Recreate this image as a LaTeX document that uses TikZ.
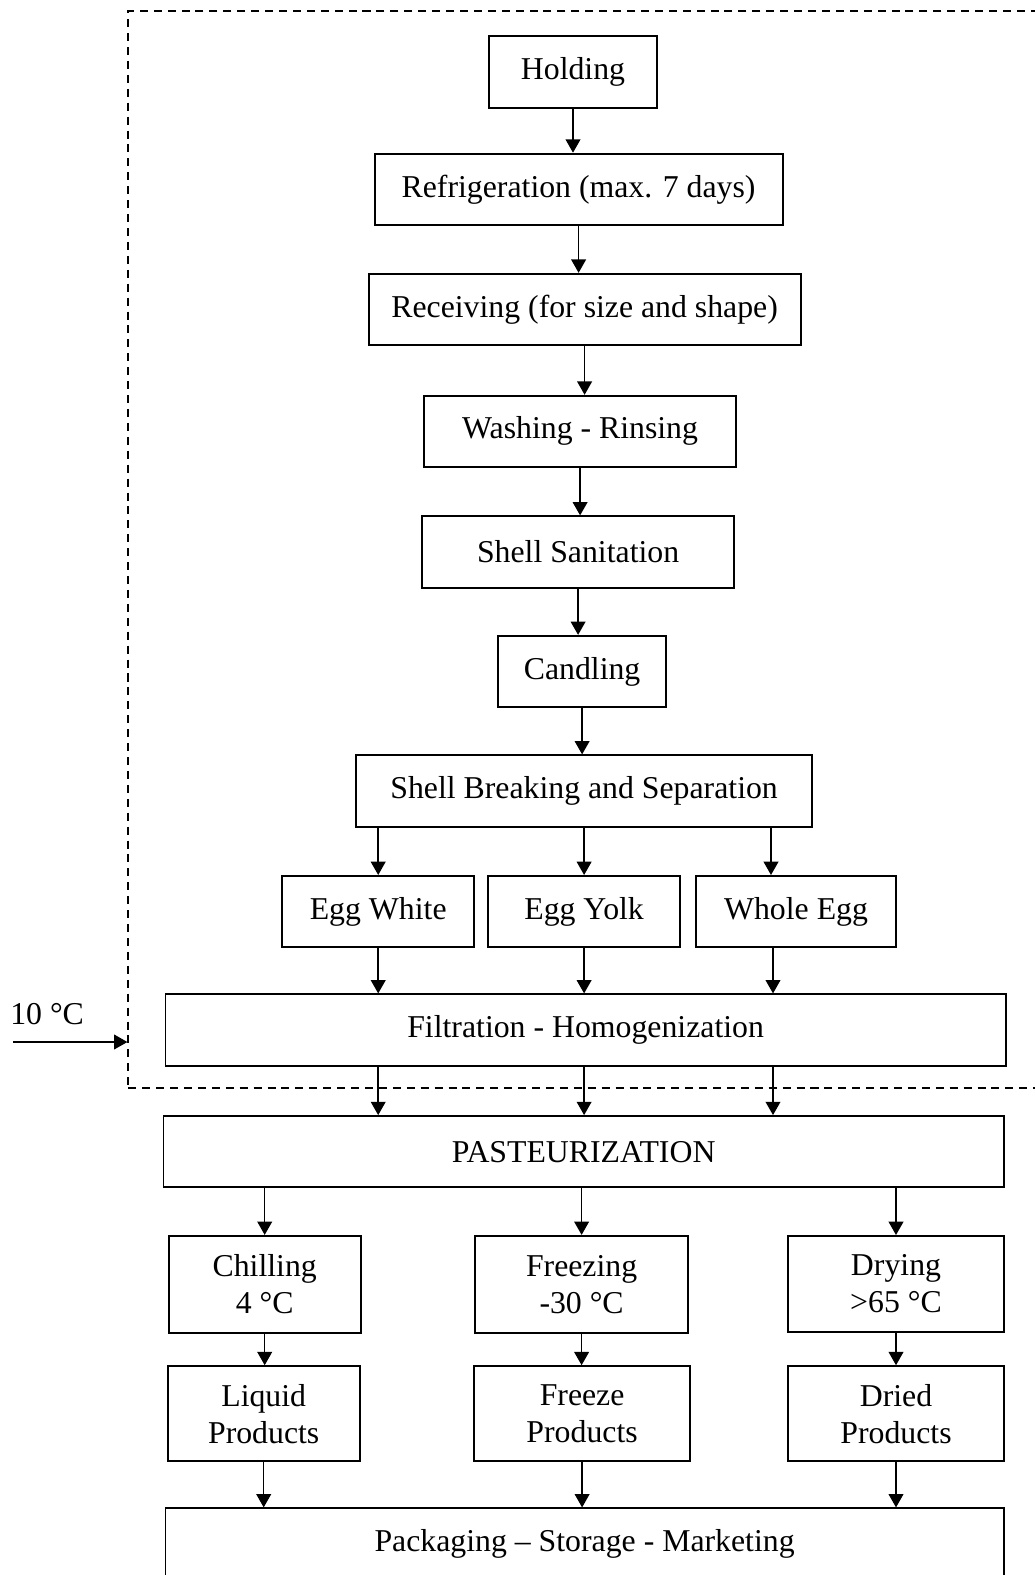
\documentclass[tikz,border=0pt]{standalone}
\usepackage{fontspec}
\setmainfont{Liberation Serif}
\usetikzlibrary{arrows.meta, positioning}

\begin{document}
\begin{tikzpicture}[x=0.025cm, y=-0.025cm, >={Triangle[length=9.5pt, width=10.5pt]},
  font=\fontsize{22.6pt}{26.4pt}\selectfont,
  box/.style={draw, line width=1.4pt, fill=white, align=center, inner sep=0pt, minimum height=1.78cm},
  tallbox/.style={box, minimum height=2.42cm},
  flow/.style={->, line width=1.1pt}]
\useasboundingbox (0,0) rectangle (1034,1575);
% refrigerated zone
\node[draw, dash pattern=on 5.7pt off 4.2pt, line width=1.3pt, minimum width=22.79cm, minimum height=26.93cm, inner sep=0pt] (zone) at (584.25,549.5) {};
\node[box, minimum width=4.2cm] (hold) at (573,72) {Holding};
\node[box, minimum width=10.2cm] (refr) at (578.6,189.3) {Refrigeration (max. 7 days)};
\node[box, minimum width=10.8cm] (recv) at (584.6,309.4) {Receiving (for size and shape)};
\node[box, minimum width=7.8cm] (wash) at (580.1,431.4) {Washing - Rinsing};
\node[box, minimum width=7.8cm] (sani) at (578.1,552) {Shell Sanitation};
\node[box, minimum width=4.2cm] (cand) at (582.1,671.5) {Candling};
\node[box, minimum width=11.38cm] (brk) at (584.1,791) {Shell Breaking and Separation};
\node[box, minimum width=4.8cm] (white) at (378.2,911.6) {Egg White};
\node[box, minimum width=4.8cm] (yolk) at (584.1,911.6) {Egg Yolk};
\node[box, minimum width=5.0cm] (whole) at (796,911.6) {Whole Egg};
\node[box, minimum width=21.0cm] (filt) at (585.6,1030) {Filtration - Homogenization};
\node[box, minimum width=21.0cm] (past) at (583.6,1151.7) {PASTEURIZATION};
\node[tallbox, minimum width=4.8cm] (chil) at (264.7,1284.3) {Chilling\\4 °C};
\node[tallbox, minimum width=5.33cm] (frez) at (581.6,1284.3) {Freezing\\-30 °C};
\node[tallbox, minimum width=5.38cm, minimum height=2.4cm] (dry) at (896,1284) {Drying\\>65 °C};
\node[tallbox, minimum width=4.8cm, minimum height=2.38cm] (liq) at (263.7,1413.8) {Liquid\\Products};
\node[tallbox, minimum width=5.4cm, minimum height=2.38cm] (frp) at (582.1,1413.8) {Freeze\\Products};
\node[tallbox, minimum width=5.38cm, minimum height=2.38cm] (drp) at (896,1413.8) {Dried\\Products};
\node[box, minimum width=20.95cm] (pack) at (584.6,1544) {Packaging – Storage - Marketing};
% incoming temperature
\coordinate (inlet) at (13,1042);
\node[anchor=south west, inner sep=0pt] (temp) at (10,1025) {10 °C};
\draw[flow] (inlet) -- (inlet -| zone.west);
% main line
\draw[flow] (hold.south) -- (hold.south |- refr.north);
\draw[flow] (refr.south) -- (refr.south |- recv.north);
\draw[flow] (recv.south) -- (recv.south |- wash.north);
\draw[flow] (wash.south) -- (wash.south |- sani.north);
\draw[flow] (sani.south) -- (sani.south |- cand.north);
\draw[flow] (cand.south) -- (cand.south |- brk.north);
\draw[flow] (white |- brk.south) -- (white.north);
\draw[flow] (yolk |- brk.south) -- (yolk.north);
\draw[flow] ([xshift=-25*0.025cm]whole |- brk.south) -- ([xshift=-25*0.025cm]whole.north);
\draw[flow] (white.south) -- (white.south |- filt.north);
\draw[flow] (yolk.south) -- (yolk.south |- filt.north);
\draw[flow] ([xshift=-23*0.025cm]whole.south) -- ([xshift=-23*0.025cm]whole.south |- filt.north);
\draw[flow] (white |- filt.south) -- (white |- past.north);
\draw[flow] (yolk |- filt.south) -- (yolk |- past.north);
\draw[flow] ([xshift=-23*0.025cm]whole |- filt.south) -- ([xshift=-23*0.025cm]whole |- past.north);
% products
\draw[flow] (chil |- past.south) -- (chil.north);
\draw[flow] (frez |- past.south) -- (frez.north);
\draw[flow] (dry |- past.south) -- (dry.north);
\draw[flow] (chil.south) -- (chil.south |- liq.north);
\draw[flow] (frez.south) -- (frez.south |- frp.north);
\draw[flow] (dry.south) -- (dry.south |- drp.north);
\draw[flow] (liq.south) -- (liq.south |- pack.north);
\draw[flow] (frp.south) -- (frp.south |- pack.north);
\draw[flow] (drp.south) -- (drp.south |- pack.north);
\end{tikzpicture}
\end{document}
